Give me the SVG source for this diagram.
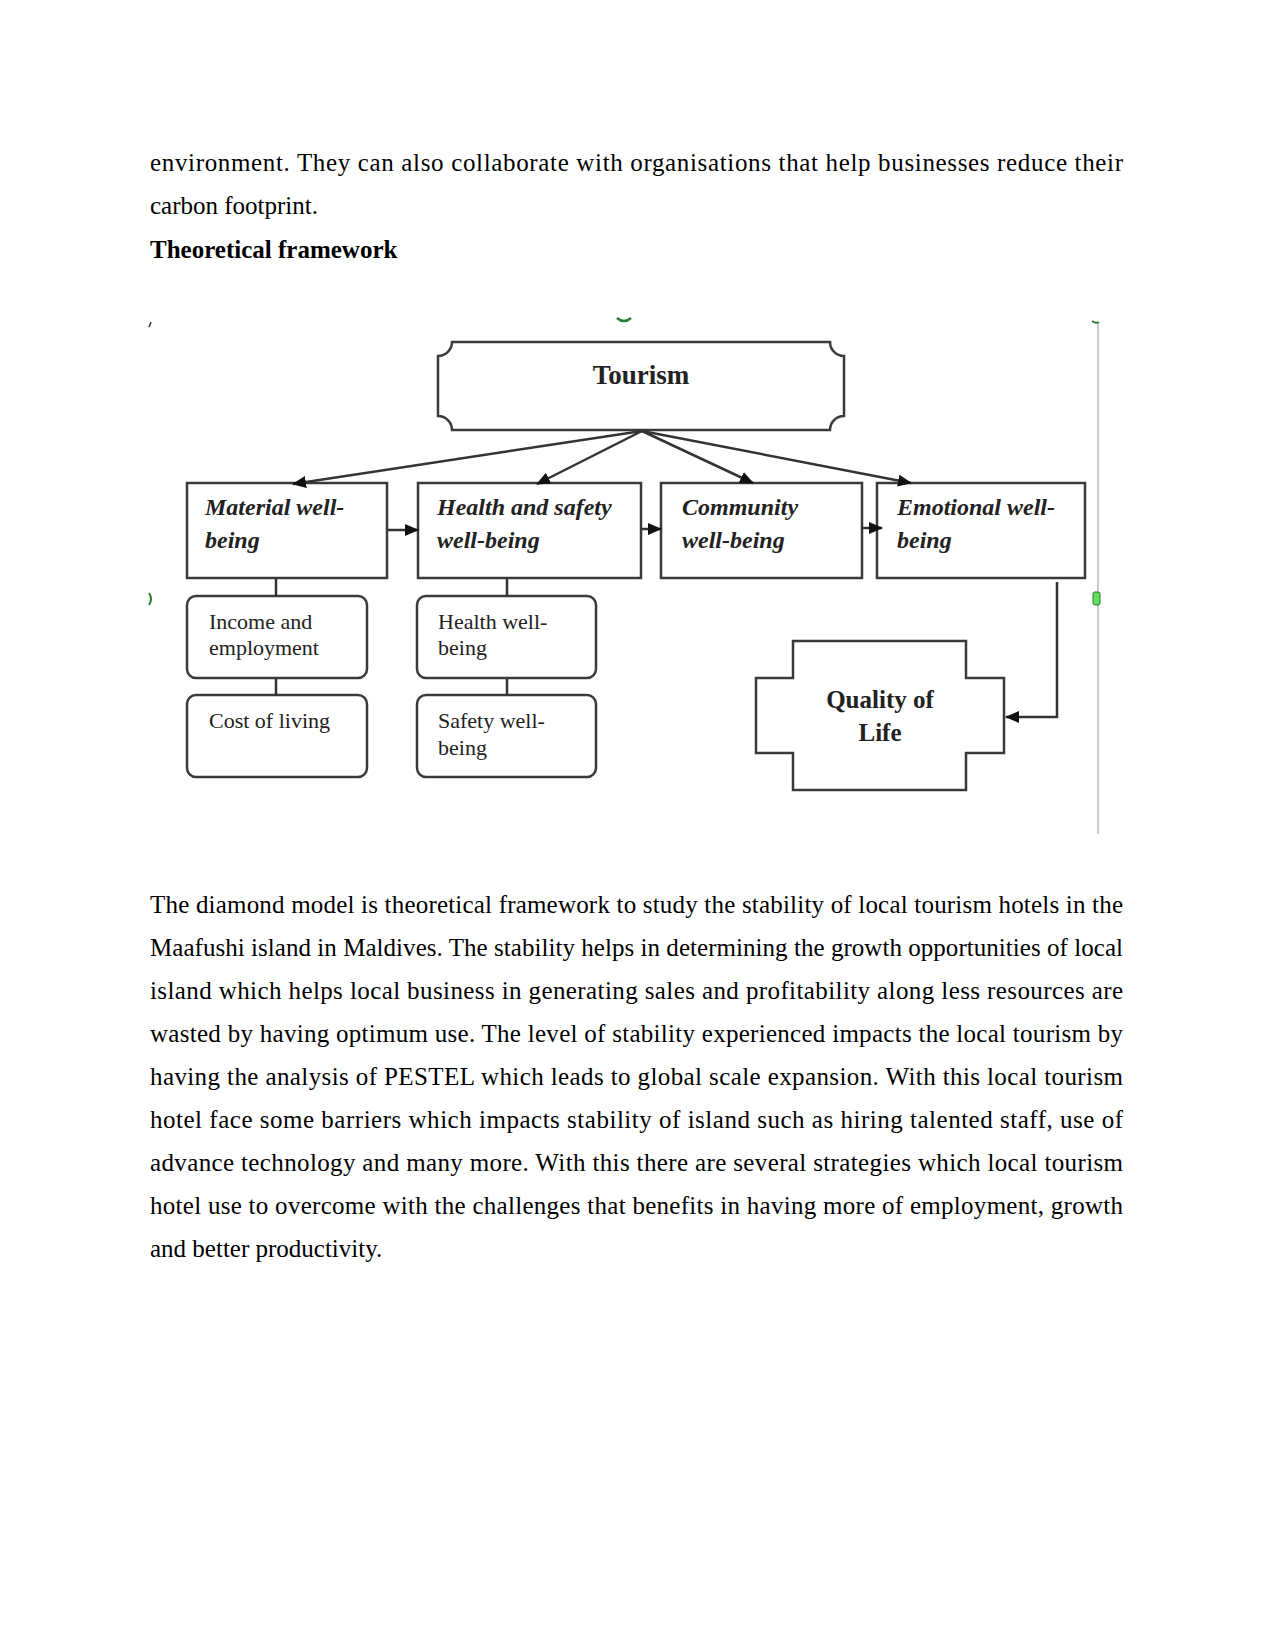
<svg xmlns="http://www.w3.org/2000/svg" width="1275" height="1650" viewBox="0 0 1275 1650">
<style>
.body{font-family:"Liberation Serif","Times New Roman",serif;font-size:25px;fill:#000}
.bold{font-weight:bold}
.box{fill:#fff;stroke:#3a3a3a;stroke-width:2.5}
.lbl{font-family:"Liberation Serif","Times New Roman",serif;font-size:24px;font-weight:bold;font-style:italic;fill:#222}
.sub{font-family:"Liberation Serif","Times New Roman",serif;font-size:22px;fill:#222}
.big{font-family:"Liberation Serif","Times New Roman",serif;font-weight:bold;fill:#222;text-anchor:middle}
.con{fill:none;stroke:#333;stroke-width:2.5}
</style>
<defs>
<marker id="ah" markerUnits="userSpaceOnUse" markerWidth="14" markerHeight="12" refX="13" refY="6" orient="auto">
<path d="M0,0 L14,6 L0,12 Z" fill="#111"/>
</marker>
</defs>
<rect width="1275" height="1650" fill="#fff"/>

<g id="para1">
<text class="body" x="150" y="171" textLength="973" lengthAdjust="spacing">environment. They can also collaborate with organisations that help businesses reduce their</text>
<text class="body" x="150" y="214">carbon footprint.</text>
<text class="body bold" x="150" y="258">Theoretical framework</text>
</g>

<g id="frame">
<line x1="1098" y1="323" x2="1098" y2="834" stroke="#bbb" stroke-width="1.5"/>
<path d="M151,322 l-2,5" stroke="#333" stroke-width="1.5" fill="none"/>
<path d="M617,318 q7,6 14,0" stroke="#2a7a2a" stroke-width="2.5" fill="none"/>
<path d="M1092,321 q4,3 7,1" stroke="#2a7a2a" stroke-width="2" fill="none"/>
<rect x="1093" y="592" width="7" height="13" rx="2" fill="#5ee05e" stroke="#2a7a2a" stroke-width="1"/>
<path d="M149,593 q4,6 0,12" stroke="#2a7a2a" stroke-width="2" fill="none"/>
</g>

<g id="tourism">
<path class="box" d="M452,342 H830 A14,14 0 0 0 844,356 V416 A14,14 0 0 0 830,430 H452 A14,14 0 0 0 438,416 V356 A14,14 0 0 0 452,342 Z"/>
<text class="big" x="641" y="384" font-size="27">Tourism</text>
</g>

<g id="material">
<rect class="box" x="187" y="483" width="200" height="95"/>
<text class="lbl" x="205" y="515">Material well-</text>
<text class="lbl" x="205" y="548">being</text>
</g>

<g id="health-safety">
<rect class="box" x="418" y="483" width="223" height="95"/>
<text class="lbl" x="437" y="515">Health and safety</text>
<text class="lbl" x="437" y="548">well-being</text>
</g>

<g id="community">
<rect class="box" x="661" y="483" width="201" height="95"/>
<text class="lbl" x="682" y="515">Community</text>
<text class="lbl" x="682" y="548">well-being</text>
</g>

<g id="emotional">
<rect class="box" x="877" y="483" width="208" height="95"/>
<text class="lbl" x="897" y="515">Emotional well-</text>
<text class="lbl" x="897" y="548">being</text>
</g>

<g id="income">
<rect class="box" x="187" y="596" width="180" height="82" rx="9"/>
<text class="sub" x="209" y="629">Income and</text>
<text class="sub" x="209" y="655">employment</text>
</g>

<g id="cost">
<rect class="box" x="187" y="695" width="180" height="82" rx="9"/>
<text class="sub" x="209" y="728">Cost of living</text>
</g>

<g id="health">
<rect class="box" x="417" y="596" width="179" height="82" rx="9"/>
<text class="sub" x="438" y="629">Health well-</text>
<text class="sub" x="438" y="655">being</text>
</g>

<g id="safety">
<rect class="box" x="417" y="695" width="179" height="82" rx="9"/>
<text class="sub" x="438" y="728">Safety well-</text>
<text class="sub" x="438" y="755">being</text>
</g>

<g id="quality">
<path class="box" d="M793,641 H966 V678 H1004 V753 H966 V790 H793 V753 H756 V678 H793 Z"/>
<text class="big" x="880" y="708" font-size="25">Quality of</text>
<text class="big" x="880" y="741" font-size="25">Life</text>
</g>

<g id="connectors">
<line class="con" x1="642" y1="431" x2="293" y2="484" marker-end="url(#ah)"/>
<line class="con" x1="642" y1="431" x2="537" y2="484" marker-end="url(#ah)"/>
<line class="con" x1="642" y1="431" x2="753" y2="483" marker-end="url(#ah)"/>
<line class="con" x1="642" y1="431" x2="911" y2="483" marker-end="url(#ah)"/>
<line class="con" x1="388" y1="530" x2="418" y2="530" marker-end="url(#ah)"/>
<line class="con" x1="642" y1="529" x2="661" y2="529" marker-end="url(#ah)"/>
<line class="con" x1="863" y1="528" x2="882" y2="528" marker-end="url(#ah)"/>
<path class="con" d="M1057,582 V717 H1006" marker-end="url(#ah)"/>
<path class="con" d="M276,579 V596 M276,679 V695 M507,579 V596 M507,679 V695"/>
</g>

<g id="para2">
<text class="body" x="150" y="913" textLength="973" lengthAdjust="spacing">The diamond model is theoretical framework to study the stability of local tourism hotels in the</text>
<text class="body" x="150" y="956" textLength="973" lengthAdjust="spacing">Maafushi island in Maldives. The stability helps in determining the growth opportunities of local</text>
<text class="body" x="150" y="999" textLength="973" lengthAdjust="spacing">island which helps local business in generating sales and profitability along less resources are</text>
<text class="body" x="150" y="1042" textLength="973" lengthAdjust="spacing">wasted by having optimum use. The level of stability experienced impacts the local tourism by</text>
<text class="body" x="150" y="1085" textLength="973" lengthAdjust="spacing">having the analysis of PESTEL which leads to global scale expansion. With this local tourism</text>
<text class="body" x="150" y="1128" textLength="973" lengthAdjust="spacing">hotel face some barriers which impacts stability of island such as hiring talented staff, use of</text>
<text class="body" x="150" y="1171" textLength="973" lengthAdjust="spacing">advance technology and many more. With this there are several strategies which local tourism</text>
<text class="body" x="150" y="1214" textLength="973" lengthAdjust="spacing">hotel use to overcome with the challenges that benefits in having more of employment, growth</text>
<text class="body" x="150" y="1257">and better productivity.</text>
</g>
</svg>
